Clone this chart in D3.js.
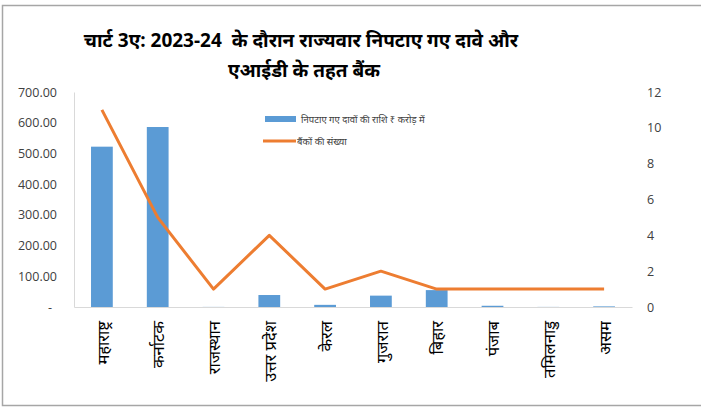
<!DOCTYPE html>
<html>
<head>
<meta charset="utf-8">
<script src="https://cdn.jsdelivr.net/npm/d3@7"></script>
<style>
  html, body { margin: 0; padding: 0; background: #fff; }
  svg { display: block; }
  text { font-family: "Open Sans", "Noto Sans", "Noto Sans Devanagari", sans-serif; }
</style>
</head>
<body>
<svg id="chart" width="701" height="407"></svg>
<script>
// State-wise settled claims (₹ crore) and number of banks, 2023-24
const states = ["महाराष्ट्र", "कर्नाटक", "राजस्थान", "उत्तर प्रदेश", "केरल", "गुजरात", "बिहार", "पंजाब", "तमिलनाडु", "असम"];
const claimAmounts = [522, 586, 0.3, 39, 7, 37, 55, 4, 0.3, 2];
const bankCounts = [11, 5, 1, 4, 1, 2, 1, 1, 1, 1];
const leftTicks = [0, 100, 200, 300, 400, 500, 600, 700];
const rightTicks = [0, 2, 4, 6, 8, 10, 12];
const titleLines = ["चार्ट 3ए: 2023-24  के दौरान राज्यवार निपटाए गए दावे और", "एआईडी के तहत बैंक"];
const legendLabels = ["निपटाए गए दावों की राशि ₹ करोड़ में", "बैंकों की संख्या"];

const barColor = "#5B9BD5";
const lineColor = "#ED7D31";
const textColor = "#404040";

const svg = d3.select("#chart");

// outer frame
svg.append("path")
  .attr("d", "M701,5.5 H2.5 V405.5 H701")
  .attr("fill", "none")
  .attr("stroke", "#a6a6a6")
  .attr("stroke-width", 1.5);

const plot = { left: 74, right: 632, top: 92, bottom: 307 };

const x = d3.scaleBand()
  .domain(states)
  .range([plot.left, plot.right])
  .paddingInner(0.61)
  .paddingOuter(0.305);

const yLeft = d3.scaleLinear().domain([0, 700]).range([plot.bottom, plot.top]);
const yRight = d3.scaleLinear().domain([0, 12]).range([plot.bottom, plot.top]);

// title
svg.append("g").selectAll("text")
  .data(titleLines)
  .join("text")
  .attr("x", (d, i) => i === 0 ? 301 : 304)
  .attr("y", (d, i) => 40 + i * 30)
  .attr("dy", "0.35em")
  .attr("text-anchor", "middle")
  .attr("font-weight", "bold")
  .attr("font-size", 19)
  .attr("fill", "#000")
  .style("white-space", "pre")
  .text(d => d);

// left axis
const leftAxis = svg.append("g")
  .attr("transform", `translate(${plot.left},0)`)
  .call(d3.axisLeft(yLeft).tickValues(leftTicks).tickSize(0).tickPadding(17)
    .tickFormat(d => d === 0 ? "-" : d3.format(".2f")(d)));
leftAxis.select(".domain").attr("stroke", "#d9d9d9").attr("stroke-width", 1);
leftAxis.selectAll(".tick text")
  .attr("font-size", 12.5)
  .attr("fill", textColor)
  .attr("font-family", "Open Sans, sans-serif")
  .attr("dx", d => d === 0 ? -5 : 0);

// right axis
const rightAxis = svg.append("g")
  .attr("transform", `translate(${plot.right},0)`)
  .call(d3.axisRight(yRight).tickValues(rightTicks).tickSize(0).tickPadding(15));
rightAxis.select(".domain").remove();
rightAxis.selectAll(".tick text")
  .attr("font-size", 12.5)
  .attr("fill", textColor)
  .attr("font-family", "Open Sans, sans-serif");

// bars
svg.append("g").selectAll("rect")
  .data(claimAmounts)
  .join("rect")
  .attr("x", (d, i) => x(states[i]))
  .attr("y", d => yLeft(d))
  .attr("width", x.bandwidth())
  .attr("height", d => yLeft(0) - yLeft(d))
  .attr("fill", barColor);

// category axis baseline
const bottomAxis = svg.append("g")
  .attr("transform", `translate(0,${plot.bottom})`)
  .call(d3.axisBottom(x).tickSize(0).tickPadding(0));
bottomAxis.select(".domain").attr("stroke", "#d9d9d9").attr("stroke-width", 1.2);
bottomAxis.selectAll(".tick text")
  .attr("font-size", 16.5)
  .attr("fill", "#000")
  .attr("text-anchor", "end")
  .attr("transform", "translate(1,14) rotate(-90)")
  .attr("x", 0)
  .attr("y", 0)
  .attr("dy", "0.35em");

// bank count line
const line = d3.line()
  .x((d, i) => x(states[i]) + x.bandwidth() / 2)
  .y(d => yRight(d));
svg.append("path")
  .datum(bankCounts)
  .attr("d", line)
  .attr("fill", "none")
  .attr("stroke", lineColor)
  .attr("stroke-width", 3)
  .attr("stroke-linejoin", "round");

// legend
const legend = svg.append("g");
legend.append("rect")
  .attr("x", 265).attr("y", 116)
  .attr("width", 31).attr("height", 6)
  .attr("fill", barColor);
legend.append("line")
  .attr("x1", 263).attr("x2", 296)
  .attr("y1", 141).attr("y2", 141)
  .attr("stroke", lineColor).attr("stroke-width", 3);
legend.selectAll("text")
  .data(legendLabels)
  .join("text")
  .attr("x", (d, i) => i === 0 ? 301 : 297)
  .attr("y", (d, i) => i === 0 ? 120 : 142)
  .attr("dy", "0.35em")
  .attr("font-size", 9.5)
  .attr("fill", textColor)
  .text(d => d);
</script>
</body>
</html>
